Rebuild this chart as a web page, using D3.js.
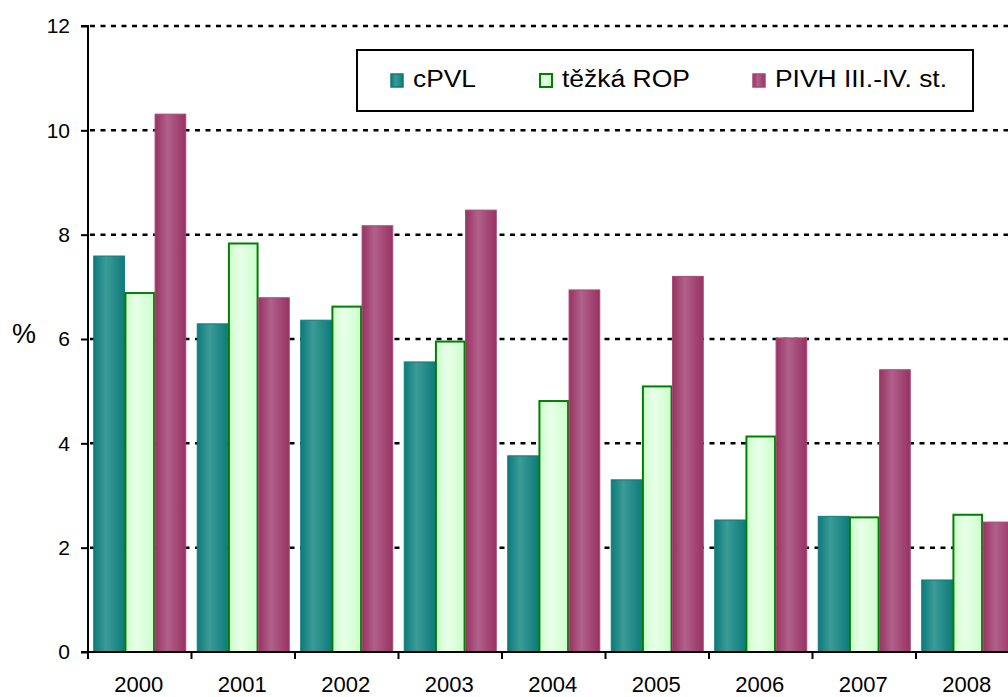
<!DOCTYPE html>
<html>
<head>
<meta charset="utf-8">
<script src="https://cdn.jsdelivr.net/npm/d3@7"></script>
<style>
  body { margin: 0; background: #fff; }
  svg { display: block; font-family: Arial, "Liberation Sans", sans-serif; }
</style>
</head>
<body>
<div id="chart"></div>
<script>
// data
var years = ['2000', '2001', '2002', '2003', '2004', '2005', '2006', '2007', '2008'];
var seriesNames = ['cPVL', 'těžká ROP', 'PIVH III.-IV. st.'];
var cPVL = [7.60, 6.30, 6.37, 5.57, 3.77, 3.31, 2.54, 2.61, 1.39];
var tezkaROP = [6.90, 7.85, 6.64, 5.97, 4.83, 5.11, 4.15, 2.60, 2.65];
var pivh = [10.32, 6.80, 8.18, 8.48, 6.95, 7.21, 6.03, 5.42, 2.50];
var yTicks = [0, 2, 4, 6, 8, 10, 12];

var w = 1008;
var h = 697;
var plotLeft = 88, plotTop = 26, plotBottom = 652;
var plotRight = 88 + 9 * 103.5; // chart runs past the right edge of the picture

var svg = d3.select('#chart')
    .append('svg')
    .attr('width', w)
    .attr('height', h);

// gradients for the bars
var defs = svg.append('defs');
var fills = [
    { id: 'gTeal', dark: '#0e7b7b', light: '#3b9b97', stroke: '#0e7b7b', sw: 1 },
    { id: 'gGreen', dark: '#ccffcc', light: '#e8ffe8', stroke: '#008000', sw: 2 },
    { id: 'gPurple', dark: '#983261', light: '#b0618b', stroke: '#a84676', sw: 1 }
];
fills.forEach(function(f) {
    var g = defs.append('linearGradient').attr('id', f.id)
        .attr('x1', '0%').attr('x2', '100%').attr('y1', '0%').attr('y2', '0%');
    g.append('stop').attr('offset', '0%').attr('stop-color', f.dark);
    g.append('stop').attr('offset', '40%').attr('stop-color', f.light);
    g.append('stop').attr('offset', '100%').attr('stop-color', f.dark);
});

var x0 = d3.scaleBand()
    .domain(years)
    .range([plotLeft, plotRight])
    .paddingInner(0.111)
    .paddingOuter(0.0555);

var x1 = d3.scaleBand()
    .domain(seriesNames)
    .range([0, x0.bandwidth()]);

var y = d3.scaleLinear()
    .domain([0, 12])
    .range([plotBottom, plotTop]);

// dotted gridlines
svg.append('g')
    .selectAll('line')
    .data(yTicks.filter(function(d) { return d > 0; }))
    .enter()
    .append('line')
    .attr('x1', plotLeft + 2)
    .attr('x2', plotRight)
    .attr('y1', function(d) { return y(d); })
    .attr('y2', function(d) { return y(d); })
    .attr('stroke', '#000')
    .attr('stroke-width', 2.5)
    .attr('stroke-dasharray', '5,5.5');

// bars
var table = years.map(function(yr, i) {
    return { year: yr, values: [cPVL[i], tezkaROP[i], pivh[i]] };
});

var groups = svg.append('g')
    .selectAll('g')
    .data(table)
    .enter()
    .append('g')
    .attr('transform', function(d) { return 'translate(' + x0(d.year) + ',0)'; });

groups.selectAll('rect')
    .data(function(d) {
        return d.values.map(function(v, j) { return { name: seriesNames[j], value: v, j: j }; });
    })
    .enter()
    .append('rect')
    .attr('x', function(d) { return x1(d.name) + (d.j == 1 ? 1 : 0); })
    .attr('y', function(d) { return y(d.value) + (d.j == 1 ? 1 : 0.5); })
    .attr('width', function(d) { return x1.bandwidth() - (d.j == 1 ? 2 : 0); })
    .attr('height', function(d) { return plotBottom - y(d.value) - (d.j == 1 ? 1 : 0.5); })
    .attr('fill', function(d) { return 'url(#' + fills[d.j].id + ')'; })
    .attr('stroke', function(d) { return fills[d.j].stroke; })
    .attr('stroke-width', function(d) { return fills[d.j].sw; });

// y axis
var yAxis = d3.axisLeft(y)
    .tickValues(yTicks)
    .tickSize(7)
    .tickPadding(11)
    .tickFormat(d3.format('d'));

var gy = svg.append('g')
    .attr('transform', 'translate(' + plotLeft + ',0)')
    .call(yAxis);
gy.select('.domain').attr('stroke', '#000').attr('stroke-width', 2)
    .attr('d', 'M-7,' + plotTop + 'H0V' + plotBottom);
gy.selectAll('.tick line').attr('stroke', '#000').attr('stroke-width', 2);
gy.selectAll('.tick text')
    .attr('fill', '#000')
    .style('font-size', '21px')
    .style('font-family', 'Arial, "Liberation Sans", sans-serif');

// x axis: ticks at category boundaries
var boundaries = years.map(function(yr) { return x0(yr) - x0.step() * 0.0555; });
var gx = svg.append('g');
gx.append('line')
    .attr('x1', plotLeft - 7)
    .attr('x2', plotRight)
    .attr('y1', plotBottom)
    .attr('y2', plotBottom)
    .attr('stroke', '#000')
    .attr('stroke-width', 2);
gx.selectAll('.xt')
    .data(boundaries)
    .enter()
    .append('line')
    .attr('class', 'xt')
    .attr('x1', function(d) { return d; })
    .attr('x2', function(d) { return d; })
    .attr('y1', plotBottom)
    .attr('y2', plotBottom + 7)
    .attr('stroke', '#000')
    .attr('stroke-width', 2);
gx.selectAll('text')
    .data(years)
    .enter()
    .append('text')
    .attr('x', function(d) { return x0(d) + x0.bandwidth() / 2 - 1; })
    .attr('y', 692)
    .attr('text-anchor', 'middle')
    .style('font-size', '22px')
    .text(function(d) { return d; });

// axis title
svg.append('text')
    .attr('x', 12)
    .attr('y', 343)
    .style('font-size', '27px')
    .text('%');

// legend
var legend = svg.append('g');
legend.append('rect')
    .attr('x', 357)
    .attr('y', 50)
    .attr('width', 616)
    .attr('height', 61)
    .attr('fill', '#fff')
    .attr('stroke', '#000')
    .attr('stroke-width', 2);

var legendX = [390, 539, 752];
var legendTextLen = [63, 128, 172];
seriesNames.forEach(function(name, j) {
    legend.append('rect')
        .attr('x', legendX[j] + 1)
        .attr('y', 74)
        .attr('width', 12)
        .attr('height', 13)
        .attr('fill', 'url(#' + fills[j].id + ')')
        .attr('stroke', fills[j].stroke)
        .attr('stroke-width', j == 1 ? 2 : 1.5);
    legend.append('text')
        .attr('x', legendX[j] + 23)
        .attr('y', 87)
        .attr('textLength', legendTextLen[j])
        .attr('lengthAdjust', 'spacingAndGlyphs')
        .style('font-size', '23px')
        .text(name);
});
</script>
</body>
</html>
